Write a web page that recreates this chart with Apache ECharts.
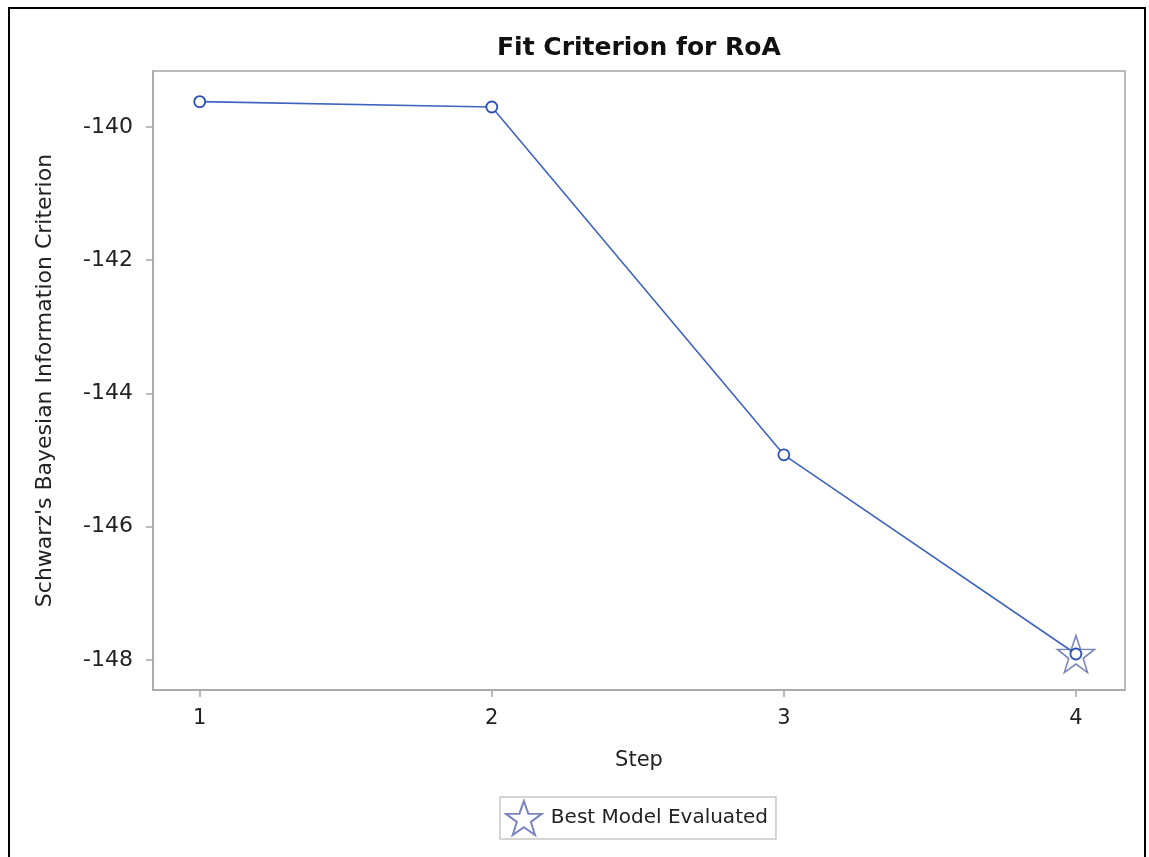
<!DOCTYPE html>
<html>
<head>
<meta charset="utf-8">
<script src="https://cdn.jsdelivr.net/npm/echarts@6/dist/echarts.min.js"></script>
<style>
html,body{margin:0;padding:0;background:#fff;}
#chart{width:1149px;height:857px;}
</style>
</head>
<body>
<div id="chart"></div>
<script>
const steps = [1, 2, 3, 4];
const sbcValues = [-139.62, -139.70, -144.92, -147.91];
const bestStep = 4;
const bestValue = -147.91;
const yTicks = [-148, -146, -144, -142, -140];
const xTicks = [1, 2, 3, 4];

const chart = echarts.init(document.getElementById('chart'));
const axisGrey = '#a3a6aa';
const font = '"DejaVu Sans", sans-serif';
const starPath = 'path://M12,0.5 L14.8,8.6 L23.4,8.7 L16.5,13.9 L19.1,22.2 L12,17.2 L4.9,22.2 L7.5,13.9 L0.6,8.7 L9.2,8.6 Z';

chart.setOption({
  backgroundColor: '#fff',
  animation: false,
  title: {
    text: 'Fit Criterion for RoA',
    left: 492, top: 31,
    textStyle: {fontFamily: font, fontWeight: 'bold', fontSize: 25, color: '#111'}
  },
  graphic: [{
    type: 'rect', silent: true,
    shape: {x: 9, y: 8, width: 1136, height: 900},
    style: {fill: 'none', stroke: '#000', lineWidth: 2}
  }],
  grid: {
    left: 153, top: 71, right: 24, bottom: 167,
    show: true, borderColor: axisGrey, borderWidth: 1.5, backgroundColor: '#fff'
  },
  xAxis: {
    type: 'value', min: 0.84, max: 4.168,
    name: 'Step', nameLocation: 'middle', nameGap: 60,
    nameTextStyle: {fontFamily: font, fontSize: 21, color: '#222'},
    axisLine: {show: true, lineStyle: {color: axisGrey, width: 1.5}},
    axisTick: {show: true, length: 7, lineStyle: {color: axisGrey, width: 1.5}, customValues: xTicks},
    axisLabel: {fontFamily: font, fontSize: 21, color: '#222', margin: 18, customValues: xTicks},
    splitLine: {show: false}
  },
  yAxis: {
    type: 'value', min: -148.45, max: -139.16,
    name: "Schwarz's Bayesian Information Criterion", nameLocation: 'middle', nameGap: 97,
    nameTextStyle: {fontFamily: font, fontSize: 22, color: '#222'},
    axisLine: {show: true, lineStyle: {color: axisGrey, width: 1.5}},
    axisTick: {show: true, length: 7, lineStyle: {color: axisGrey, width: 1.5}, customValues: yTicks},
    axisLabel: {fontFamily: font, fontSize: 22, color: '#222', margin: 20, customValues: yTicks},
    splitLine: {show: false}
  },
  legend: {
    data: [{name: 'Best Model Evaluated', icon: starPath}],
    left: 500, top: 797,
    borderColor: '#c8c8c8', borderWidth: 1.5,
    padding: [3, 8, 3, 5],
    itemWidth: 36, itemHeight: 34, itemGap: 10,
    textStyle: {fontFamily: font, fontSize: 20, color: '#222', padding: [0, 0, 0, 4]}
  },
  series: [
    {
      name: 'SBC', type: 'line',
      data: steps.map((s, i) => [s, sbcValues[i]]),
      symbol: 'circle', symbolSize: 11,
      itemStyle: {color: '#fff', borderColor: '#2b4fb4', borderWidth: 1.8},
      lineStyle: {color: '#3f63c0', width: 1.6},
      z: 3
    },
    {
      name: 'Best Model Evaluated', type: 'scatter',
      data: [[bestStep, bestValue]],
      symbol: starPath,
      symbolSize: 37,
      itemStyle: {color: 'rgba(0,0,0,0)', borderColor: '#5866ab', borderWidth: 1.6},
      z: 2
    }
  ]
});
</script>
</body>
</html>
